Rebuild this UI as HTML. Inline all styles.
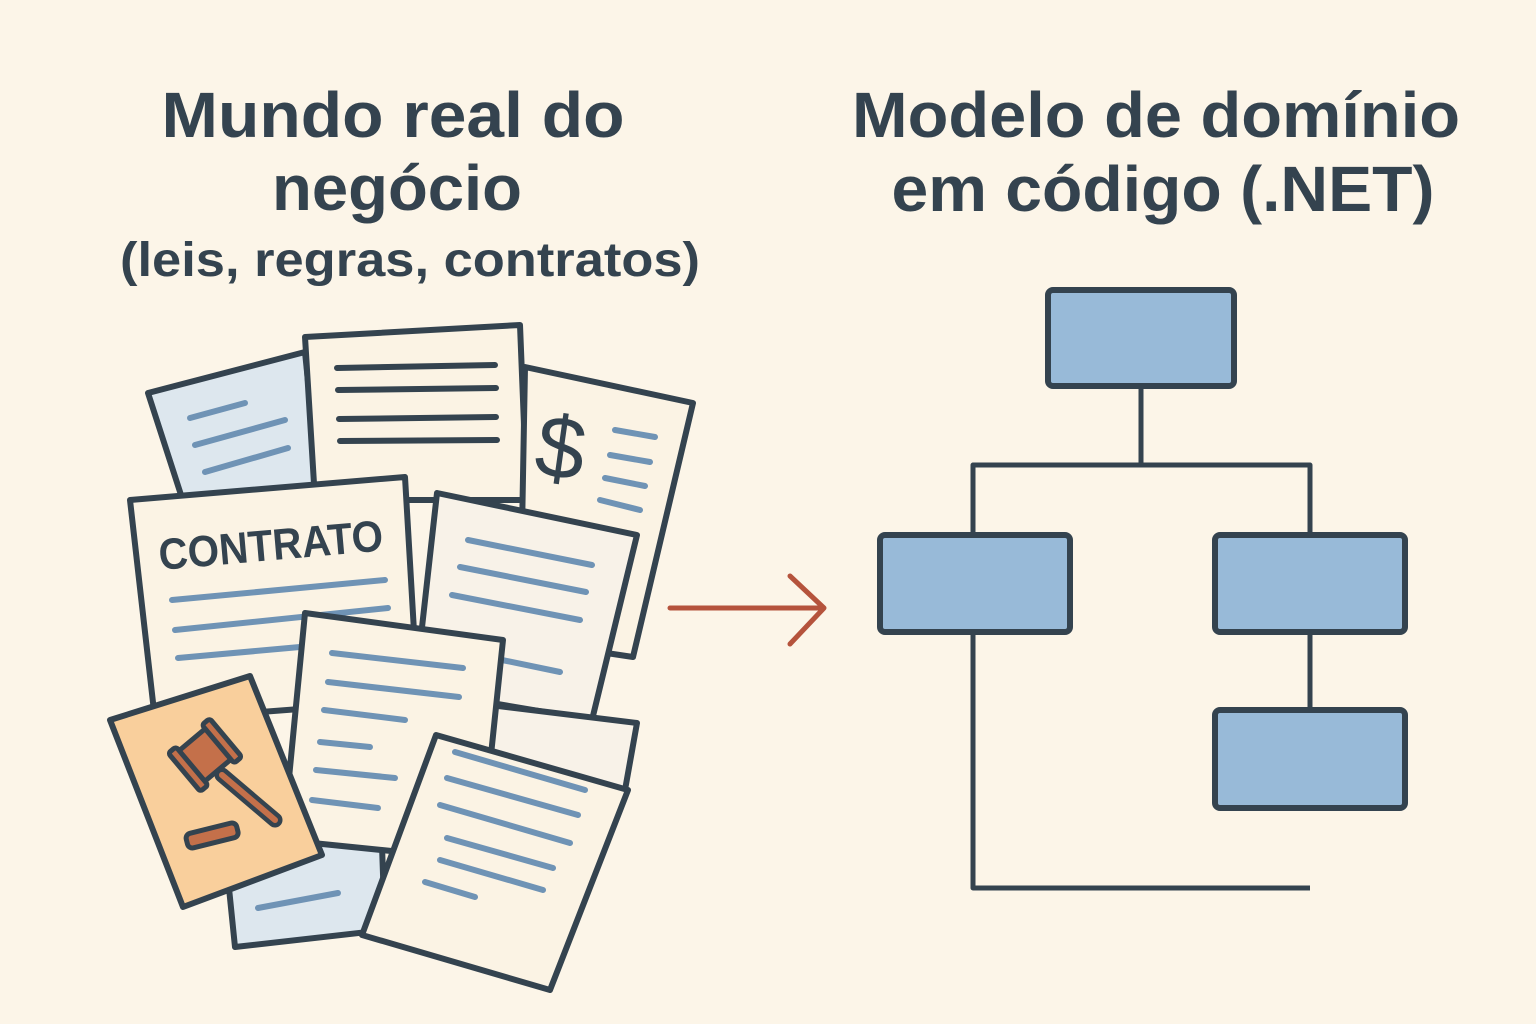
<!DOCTYPE html>
<html><head><meta charset="utf-8"><style>
html,body{margin:0;padding:0;background:#fcf5e8;}
svg{display:block}
text{font-family:"Liberation Sans",sans-serif;font-weight:bold;fill:#34434f}
</style></head><body>
<svg width="1536" height="1024" viewBox="0 0 1536 1024" xmlns="http://www.w3.org/2000/svg">
<rect width="1536" height="1024" fill="#fcf5e8"/>
<text x="393" y="137" font-size="64" text-anchor="middle" textLength="463" lengthAdjust="spacingAndGlyphs">Mundo real do</text>
<text x="397" y="210" font-size="64" text-anchor="middle" textLength="250" lengthAdjust="spacingAndGlyphs">negócio</text>
<text x="410" y="276" font-size="48" text-anchor="middle" textLength="580" lengthAdjust="spacingAndGlyphs">(leis, regras, contratos)</text>
<text x="1156" y="137" font-size="64" text-anchor="middle" textLength="608" lengthAdjust="spacingAndGlyphs">Modelo de domínio</text>
<text x="1163" y="211" font-size="64" text-anchor="middle" textLength="543" lengthAdjust="spacingAndGlyphs">em código (.NET)</text>

<defs><style>
.d{stroke:#34434f;stroke-width:6;stroke-linejoin:round}
.b{stroke:#6f93b5;stroke-width:6;stroke-linecap:round;fill:none}
.k{stroke:#34434f;stroke-width:6;stroke-linecap:round;fill:none}
</style></defs>

<polygon class="d" points="148,393 305,352 320,500 182,498" fill="#dde7ee"/>
<g class="b"><line x1="190" y1="418" x2="245" y2="403"/><line x1="195" y1="445" x2="285" y2="420"/><line x1="205" y1="472" x2="288" y2="448"/></g>

<polygon class="d" points="305,337 520,325 527,500 315,500" fill="#fbf3e4"/>
<g class="k"><line x1="337" y1="368" x2="495" y2="365"/><line x1="338" y1="390" x2="496" y2="388"/>
<line x1="339" y1="419" x2="496" y2="417"/><line x1="340" y1="441" x2="497" y2="440"/></g>

<polygon class="d" points="525,367 693,403 633,657 520,640" fill="#fbf3e4"/>
<g class="b"><line x1="615" y1="430" x2="655" y2="437"/><line x1="610" y1="455" x2="650" y2="462"/><line x1="605" y1="478" x2="645" y2="486"/><line x1="600" y1="500" x2="640" y2="510"/></g>
<text x="536" y="478" font-size="88" style="font-weight:normal" transform="rotate(8 560 450)">$</text>

<polygon class="d" points="130,500 405,477 418,700 155,720" fill="#fbf3e4"/>
<text x="160" y="570" font-size="44" transform="rotate(-5 160 570)" textLength="225" lengthAdjust="spacingAndGlyphs">CONTRATO</text>
<g class="b"><line x1="172" y1="600" x2="385" y2="580"/><line x1="175" y1="630" x2="388" y2="608"/><line x1="178" y1="658" x2="300" y2="647"/></g>

<polygon class="d" points="437,493 637,535 592,720 415,690" fill="#f8f2e8"/>
<g class="b"><line x1="468" y1="540" x2="592" y2="565"/><line x1="460" y1="567" x2="586" y2="592"/><line x1="452" y1="595" x2="580" y2="620"/><line x1="502" y1="660" x2="560" y2="672"/></g>

<polygon class="d" points="490,705 637,723 625,790 490,780" fill="#f8f2e8"/>
<polygon class="d" points="220,800 380,790 385,930 235,947" fill="#dde7ee"/>
<g class="b"><line x1="258" y1="908" x2="338" y2="893"/></g>

<polygon class="d" points="305,613 503,640 480,860 283,840" fill="#fbf3e4"/>
<g class="b"><line x1="332" y1="653" x2="463" y2="668"/><line x1="328" y1="682" x2="459" y2="697"/><line x1="324" y1="710" x2="405" y2="720"/><line x1="320" y1="742" x2="370" y2="747"/><line x1="316" y1="770" x2="395" y2="778"/><line x1="312" y1="800" x2="378" y2="808"/></g>

<polygon class="d" points="110,720 250,676 322,855 183,907" fill="#f9cf9c"/>
<g stroke="#34434f" stroke-width="5" stroke-linejoin="round" fill="#c4704a">
<line x1="222" y1="775" x2="275" y2="820" stroke="#34434f" stroke-width="15" stroke-linecap="round"/>
<line x1="222" y1="775" x2="275" y2="820" stroke="#c4704a" stroke-width="6" stroke-linecap="round"/>
<g transform="rotate(-40 205 755)">
<rect x="185" y="735" width="40" height="40" rx="3"/>
<rect x="178" y="730" width="10" height="50" rx="3"/>
<rect x="222" y="730" width="10" height="50" rx="3"/>
</g>
<rect x="186" y="828" width="52" height="15" rx="5" transform="rotate(-14 212 835)"/>
</g>

<polygon class="d" points="436,735 628,790 550,990 362,935" fill="#fbf3e4"/>
<g class="b"><line x1="455" y1="752" x2="585" y2="790"/><line x1="447" y1="778" x2="578" y2="815"/><line x1="440" y1="805" x2="570" y2="843"/><line x1="447" y1="838" x2="553" y2="868"/><line x1="440" y1="860" x2="543" y2="890"/><line x1="425" y1="882" x2="475" y2="897"/></g>

<g stroke="#b5533c" stroke-width="5" stroke-linecap="round" fill="none" stroke-linejoin="round">
<line x1="670" y1="608" x2="823" y2="608"/>
<polyline points="790,576 824,608 790,644"/>
</g>
<g stroke="#34434f" stroke-width="5" fill="none" stroke-linejoin="round">
<polyline points="1141,386 1141,465"/>
<polyline points="973,535 973,465 1310,465 1310,535"/>
<polyline points="1310,632 1310,710"/>
<polyline points="973,632 973,888 1310,888"/>
</g>
<g stroke="#34434f" stroke-width="6" fill="#98bad8">
<rect x="1048" y="290" width="186" height="96" rx="5"/>
<rect x="880" y="535" width="190" height="97" rx="5"/>
<rect x="1215" y="535" width="190" height="97" rx="5"/>
<rect x="1215" y="710" width="190" height="98" rx="5"/>
</g>
</svg>
</body></html>
